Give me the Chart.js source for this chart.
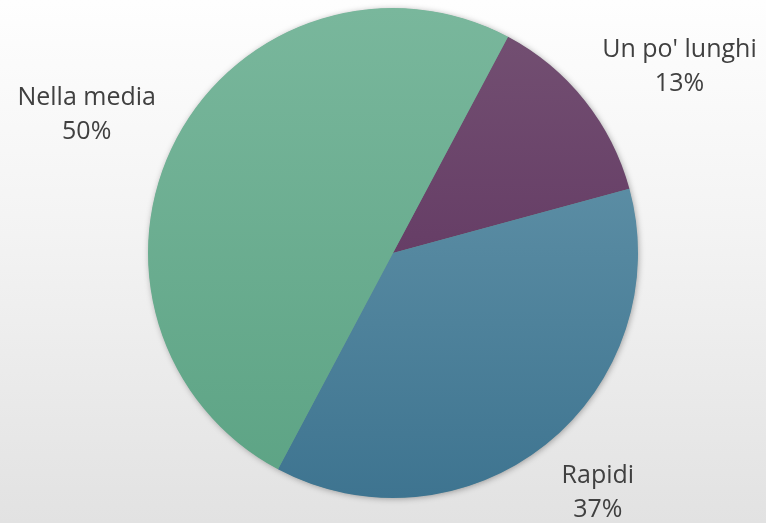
<!DOCTYPE html>
<html>
<head>
<meta charset="utf-8">
<script src="https://cdn.jsdelivr.net/npm/chart.js@4/dist/chart.umd.min.js"></script>
<style>
  html, body { margin: 0; padding: 0; }
  body { width: 766px; height: 523px; background: linear-gradient(to bottom, #fefefe 0%, #f3f3f3 45%, #e2e2e2 100%); }
  #wrap { position: relative; width: 766px; height: 523px; }
</style>
</head>
<body>
<div id="wrap"><canvas id="c" width="766" height="523"></canvas></div>
<script>
// Risposte sulla durata
const categories = ["Un po' lunghi", "Rapidi", "Nella media"];
const percentages = [13, 37, 50];

// top / bottom colours of each slice's vertical gradient
const topColors = ['#745173', '#6b9baf', '#79b79c'];
const bottomColors = ['#582a59', '#3e7490', '#5ca384'];

// label block offset from the slice's outer edge at its mid-angle
const labelOffsets = [[95, -33], [52, 48], [-90, -23]];

function sliceGradient(context) {
  const chart = context.chart;
  const area = chart.chartArea;
  if (!area || !isFinite(area.top) || !isFinite(area.bottom)) return topColors[context.dataIndex];
  const cy = (area.top + area.bottom) / 2;
  const r = Math.min(area.right - area.left, area.bottom - area.top) / 2;
  const g = chart.ctx.createLinearGradient(0, cy - r, 0, cy + r);
  g.addColorStop(0, topColors[context.dataIndex]);
  g.addColorStop(1, bottomColors[context.dataIndex]);
  return g;
}

const pieShadow = {
  id: 'pieShadow',
  beforeDatasetsDraw(chart) {
    const arc = chart.getDatasetMeta(0).data[0];
    if (!arc) return;
    const ctx = chart.ctx;
    ctx.save();
    ctx.shadowColor = 'rgba(0,0,0,0.35)';
    ctx.shadowBlur = 6;
    ctx.shadowOffsetX = 1;
    ctx.shadowOffsetY = 1;
    ctx.fillStyle = '#6a9a8a';
    ctx.beginPath();
    ctx.arc(arc.x, arc.y, arc.outerRadius - 0.5, 0, Math.PI * 2);
    ctx.fill();
    ctx.restore();
  }
};

const outsideLabels = {
  id: 'outsideLabels',
  afterDatasetsDraw(chart) {
    const ctx = chart.ctx;
    const meta = chart.getDatasetMeta(0);
    ctx.save();
    ctx.font = '25px "Open Sans", sans-serif';
    ctx.fillStyle = '#404040';
    ctx.textAlign = 'center';
    ctx.textBaseline = 'middle';
    meta.data.forEach((arc, i) => {
      const mid = (arc.startAngle + arc.endAngle) / 2;
      const ex = arc.x + Math.cos(mid) * arc.outerRadius;
      const ey = arc.y + Math.sin(mid) * arc.outerRadius;
      const cx = ex + labelOffsets[i][0];
      const cy = ey + labelOffsets[i][1];
      ctx.fillText(categories[i], cx, cy - 17);
      ctx.fillText(percentages[i] + '%', cx, cy + 17);
    });
    ctx.restore();
  }
};

new Chart(document.getElementById('c'), {
  type: 'pie',
  data: {
    labels: categories,
    datasets: [{
      data: percentages,
      backgroundColor: sliceGradient,
      borderWidth: 0,
      hoverOffset: 0
    }]
  },
  options: {
    responsive: false,
    animation: false,
    rotation: 28,
    layout: { padding: { top: 8, bottom: 25, left: 20, right: 0 } },
    plugins: {
      legend: { display: false },
      tooltip: { enabled: false }
    }
  },
  plugins: [pieShadow, outsideLabels]
});
</script>
</body>
</html>
